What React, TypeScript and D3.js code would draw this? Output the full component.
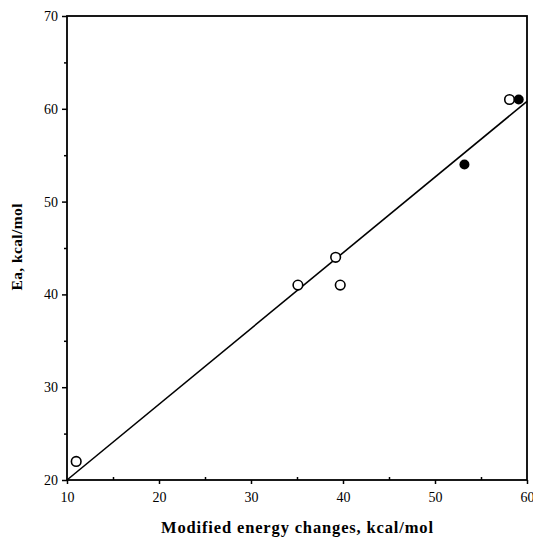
import * as d3 from 'd3';
import React, { useEffect, useRef } from 'react';

// open circles
const openX = [11, 35.1, 39.2, 39.7, 58.1];
const openY = [22, 41, 44, 41, 61];
// filled circles
const filledX = [53.2, 59.1];
const filledY = [54, 61];
// fitted line end points
const fitX = [10, 60];
const fitY = [20, 60.8];

const xTicks = [10, 20, 30, 40, 50, 60];
const yTicks = [20, 30, 40, 50, 60, 70];
const xMinor = [15, 25, 35, 45, 55];
const yMinor = [25, 35, 45, 55, 65];

const width = 533,
  height = 540;
const margin = { left: 67, right: 6, top: 16, bottom: 60 };

export default function App() {
  const ref = useRef<SVGSVGElement>(null);

  useEffect(() => {
    const svg = d3.select(ref.current);
    svg.selectAll('*').remove();

    const x = d3.scaleLinear().domain([10, 60]).range([margin.left, width - margin.right]);
    const y = d3.scaleLinear().domain([20, 70]).range([height - margin.bottom, margin.top]);
    const font = '"Liberation Serif", "DejaVu Serif", serif';

    // frame
    svg
      .append('rect')
      .attr('x', x(10))
      .attr('y', y(70))
      .attr('width', x(60) - x(10))
      .attr('height', y(20) - y(70))
      .attr('fill', 'none')
      .attr('stroke', '#000')
      .attr('stroke-width', 1.8);

    // x axis
    const gx = svg.append('g').attr('transform', `translate(0,${y(20)})`);
    gx.call(d3.axisBottom(x).tickValues(xTicks).tickSize(4).tickFormat(d3.format('d')));
    gx.append('g').call(d3.axisBottom(x).tickValues(xMinor).tickSize(-3).tickFormat(() => ''));
    gx.selectAll('.domain').remove();
    gx.selectAll('line').attr('stroke', '#000').attr('stroke-width', 1.5);
    gx.selectAll('text')
      .attr('font-family', font)
      .attr('font-size', 14)
      .attr('fill', '#000')
      .attr('dy', '1.05em');

    // y axis
    const gy = svg.append('g').attr('transform', `translate(${x(10)},0)`);
    gy.call(d3.axisLeft(y).tickValues(yTicks).tickSize(5).tickFormat(d3.format('d')));
    gy.append('g').call(d3.axisLeft(y).tickValues(yMinor).tickSize(3).tickFormat(() => ''));
    gy.selectAll('.domain').remove();
    gy.selectAll('line').attr('stroke', '#000').attr('stroke-width', 1.5);
    gy.selectAll('text')
      .attr('font-family', font)
      .attr('font-size', 14)
      .attr('fill', '#000')
      .attr('x', -9);

    // fitted line
    const line = d3
      .line<number>()
      .x((d) => x(d))
      .y((d, i) => y(fitY[i]));
    svg
      .append('path')
      .attr('d', line(fitX))
      .attr('fill', 'none')
      .attr('stroke', '#000')
      .attr('stroke-width', 1.6);

    // open points
    svg
      .append('g')
      .selectAll('circle')
      .data(openX)
      .join('circle')
      .attr('cx', (d) => x(d))
      .attr('cy', (d, i) => y(openY[i]))
      .attr('r', 4.8)
      .attr('fill', '#fff')
      .attr('stroke', '#000')
      .attr('stroke-width', 1.6);

    // filled points
    svg
      .append('g')
      .selectAll('circle')
      .data(filledX)
      .join('circle')
      .attr('cx', (d) => x(d))
      .attr('cy', (d, i) => y(filledY[i]))
      .attr('r', 5)
      .attr('fill', '#000');

    // axis titles
    svg
      .append('text')
      .attr('x', 297)
      .attr('y', 533)
      .attr('text-anchor', 'middle')
      .attr('font-family', font)
      .attr('font-weight', 'bold')
      .attr('font-size', 16.5)
      .attr('textLength', 272)
      .attr('lengthAdjust', 'spacing')
      .text('Modified energy changes, kcal/mol');

    svg
      .append('text')
      .attr('transform', `translate(22,247) rotate(-90)`)
      .attr('text-anchor', 'middle')
      .attr('font-family', font)
      .attr('font-weight', 'bold')
      .attr('font-size', 15.5)
      .attr('textLength', 87)
      .attr('lengthAdjust', 'spacing')
      .text('Ea, kcal/mol');
  }, []);

  return (
    <svg
      ref={ref}
      width={width}
      height={height}
      style={{ position: 'absolute', left: 0, top: 0, background: '#fff' }}
    />
  );
}
